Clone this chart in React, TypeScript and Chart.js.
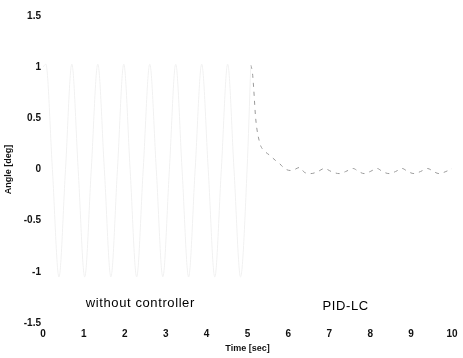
import React, { useEffect, useRef } from "react";
import { Chart, registerables } from "chart.js";

Chart.register(...registerables);

// Time [sec] and angle [deg]
const timeFree = [
  0.0, 0.07, 0.23, 0.39, 0.55, 0.705, 0.86, 1.02, 1.18, 1.34, 1.5, 1.66, 1.82, 1.975,
  2.13, 2.29, 2.45, 2.61, 2.77, 2.93, 3.09, 3.245, 3.4, 3.56, 3.72, 3.88, 4.04, 4.2,
  4.36, 4.515, 4.67, 4.83, 4.99, 5.08,
];
const angleFree = [
  1.0, 1.03, 0.0, -1.05, 0.0, 1.03, 0.0, -1.05, 0.0, 1.03, 0.0, -1.05, 0.0, 1.03,
  0.0, -1.05, 0.0, 1.03, 0.0, -1.05, 0.0, 1.03, 0.0, -1.05, 0.0, 1.03, 0.0, -1.05,
  0.0, 1.03, 0.0, -1.05, 0.0, 1.02,
];
const timePid = [
  5.08, 5.12, 5.15, 5.2, 5.3, 5.42, 5.54, 5.68, 5.78, 5.85, 5.95, 6.05, 6.15, 6.27,
  6.4, 6.55, 6.72, 6.88, 7.05, 7.24, 7.4, 7.58, 7.72, 7.85, 8.0, 8.17, 8.3, 8.46,
  8.62, 8.78, 8.92, 9.07, 9.23, 9.4, 9.55, 9.68, 9.85, 10.0,
];
const anglePid = [
  1.02, 0.95, 0.8, 0.5, 0.26, 0.18, 0.14, 0.09, 0.06, 0.03, 0.0, -0.01, 0.0, 0.02,
  -0.03, -0.04, -0.02, 0.01, -0.02, -0.04, -0.02, 0.01, -0.02, -0.04, -0.02, 0.01, -0.02, -0.04,
  -0.02, 0.01, -0.02, -0.04, -0.02, 0.01, -0.02, -0.04, -0.02, 0.01,
];
const yTickValues = [-1.5, -1, -0.5, 0, 0.5, 1, 1.5];
const xTickValues = [0, 1, 2, 3, 4, 5, 6, 7, 8, 9, 10];
const noteTexts = ["without controller", "PID-LC"];
const noteX = [2.38, 7.4];
const noteY = [-1.31, -1.34];

const FONT = "'Liberation Sans', Arial, sans-serif";

const notesPlugin = {
  id: "notes",
  afterDatasetsDraw(chart: any) {
    const { ctx, scales } = chart;
    ctx.save();
    ctx.fillStyle = "#000";
    ctx.font = `13px ${FONT}`;
    (ctx as any).letterSpacing = "0.6px";
    ctx.textAlign = "center";
    ctx.textBaseline = "middle";
    noteTexts.forEach((t, i) => {
      ctx.fillText(t, scales.x.getPixelForValue(noteX[i]), scales.y.getPixelForValue(noteY[i]));
    });
    ctx.restore();
  },
};

export default function App() {
  const ref = useRef<HTMLCanvasElement | null>(null);
  useEffect(() => {
    if (!ref.current) return;
    const chart = new Chart(ref.current, {
      type: "line",
      data: {
        datasets: [
          {
            label: "without controller",
            data: timeFree.map((t, i) => ({ x: t, y: angleFree[i] })),
            borderColor: "#f1f1f1",
            borderWidth: 1,
            pointRadius: 0,
            cubicInterpolationMode: "monotone",
          },
          {
            label: "PID-LC",
            data: timePid.map((t, i) => ({ x: t, y: anglePid[i] })),
            borderColor: "#9a9a9a",
            borderWidth: 1,
            borderDash: [4, 5],
            pointRadius: 0,
            cubicInterpolationMode: "monotone",
          },
        ],
      },
      options: {
        animation: false,
        responsive: false,
        layout: { padding: { left: 0, right: 11, top: 16, bottom: 0 } },
        plugins: { legend: { display: false }, tooltip: { enabled: false } },
        scales: {
          x: {
            type: "linear",
            min: 0,
            max: 10,
            grid: { display: false, drawTicks: false },
            border: { display: false },
            afterBuildTicks: (s: any) => {
              s.ticks = xTickValues.map((v) => ({ value: v }));
            },
            afterFit: (s: any) => {
              s.height = 35;
            },
            ticks: {
              color: "#111",
              padding: 5,
              font: { family: FONT, size: 10, weight: "bold" },
              maxRotation: 0,
              autoSkip: false,
            },
            title: {
              display: true,
              text: "Time [sec]",
              color: "#111",
              font: { family: FONT, size: 9, weight: "bold" },
              padding: { top: 0, bottom: 4 },
            },
          },
          y: {
            type: "linear",
            min: -1.5,
            max: 1.5,
            grid: { display: false, drawTicks: false },
            border: { display: false },
            afterBuildTicks: (s: any) => {
              s.ticks = yTickValues.map((v) => ({ value: v }));
            },
            afterFit: (s: any) => {
              s.width = 43;
            },
            ticks: {
              color: "#111",
              padding: 2,
              font: { family: FONT, size: 10, weight: "bold" },
              callback: (v: any) => String(v),
            },
            title: {
              display: true,
              text: "Angle [deg]",
              color: "#111",
              font: { family: FONT, size: 9, weight: "bold" },
              padding: { top: 3, bottom: 0 },
            },
          },
        },
      },
      plugins: [notesPlugin],
    } as any);
    return () => chart.destroy();
  }, []);
  return (
    <div style={{ position: "fixed", left: 0, top: 0, width: 463, height: 358, background: "#fff" }}>
      <canvas ref={ref} width={463} height={358} />
    </div>
  );
}
